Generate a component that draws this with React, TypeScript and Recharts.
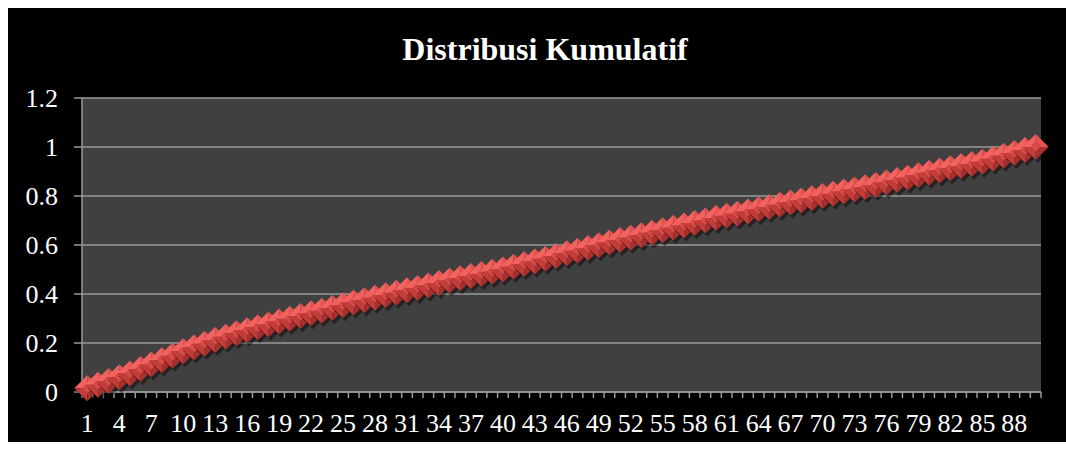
import React, { useLayoutEffect } from 'react';
import { LineChart, Line, XAxis, YAxis, CartesianGrid } from 'recharts';

// nilai distribusi kumulatif per data ke-1..90
const CUMULATIVE = [
  0.015, 0.03, 0.045, 0.06, 0.076, 0.094, 0.112, 0.13, 0.148, 0.166,
  0.182, 0.197, 0.212, 0.226, 0.24, 0.252, 0.264, 0.276, 0.288, 0.299,
  0.31, 0.321, 0.332, 0.343, 0.354, 0.365, 0.375, 0.385, 0.395, 0.405,
  0.415, 0.425, 0.435, 0.445, 0.455, 0.464, 0.473, 0.482, 0.491, 0.5,
  0.511, 0.522, 0.533, 0.544, 0.555, 0.566, 0.577, 0.588, 0.599, 0.61,
  0.62, 0.63, 0.64, 0.65, 0.66, 0.67, 0.68, 0.69, 0.7, 0.71,
  0.719, 0.728, 0.737, 0.746, 0.755, 0.764, 0.773, 0.782, 0.791, 0.8,
  0.809, 0.818, 0.827, 0.836, 0.845, 0.855, 0.865, 0.875, 0.885, 0.895,
  0.904, 0.913, 0.922, 0.931, 0.94, 0.952, 0.964, 0.976, 0.988, 1.0,
];

const CATEGORIES = CUMULATIVE.map((_, i) => i + 1);
const X_LABELS = [1, 4, 7, 10, 13, 16, 19, 22, 25, 28, 31, 34, 37, 40, 43, 46, 49, 52, 55, 58, 61, 64, 67, 70, 73, 76, 79, 82, 85, 88];
const Y_TICKS = [0, 0.2, 0.4, 0.6, 0.8, 1, 1.2];
const Y_LABELS = ['0', '0.2', '0.4', '0.6', '0.8', '1', '1.2'];

const data = CATEGORIES.map((c, i) => ({ idx: c, value: CUMULATIVE[i] }));
// batas kategori untuk garis tick sumbu x
const BOUNDARIES = [0.5, ...CATEGORIES.map((c) => c + 0.5)];

const CHART_W = 1058;
const CHART_H = 434;
const MARGIN = { top: 90, right: 25, left: 0, bottom: 10 };
const Y_AXIS_W = 74;
const PLOT_W = CHART_W - MARGIN.left - MARGIN.right - Y_AXIS_W;
const BAND = PLOT_W / CATEGORIES.length;
const FONT = '"Liberation Serif", "Times New Roman", serif';
const AXIS_GRAY = '#9a9a9a';

const pts = (arr: number[][]) => arr.map((p) => p.join(',')).join(' ');

function Diamond(props: any) {
  const { cx, cy, index } = props;
  if (cx == null || cy == null) return null;
  const R = 13;
  const r = 5;
  const T = [cx, cy - R], Rt = [cx + R, cy], B = [cx, cy + R], L = [cx - R, cy];
  const t = [cx, cy - r], rr = [cx + r, cy], b = [cx, cy + r], l = [cx - r, cy];
  return (
    <g key={`dm-${index}`}>
      <polygon points={pts([[T[0] + 2, T[1] + 3], [Rt[0] + 2, Rt[1] + 3], [B[0] + 2, B[1] + 3], [L[0] + 2, L[1] + 3]])} fill="rgba(0,0,0,0.45)" />
      <polygon points={pts([L, T, t, l])} fill="#f2635f" />
      <polygon points={pts([T, Rt, rr, t])} fill="#e8534f" />
      <polygon points={pts([Rt, B, b, rr])} fill="#a5302e" />
      <polygon points={pts([B, L, l, b])} fill="#c23d3a" />
      <polygon points={pts([t, rr, b, l])} fill="#dc4a47" />
    </g>
  );
}

function XTick(props: any) {
  const { x, y, payload } = props;
  const cat = payload.value + 0.5;
  if (!X_LABELS.includes(cat)) return <g />;
  return (
    <text x={x + BAND / 2} y={y + 32} textAnchor="middle" fill="#ffffff" fontSize={26} fontFamily={FONT}>
      {cat}
    </text>
  );
}

export default function App() {
  // hindari scrollbar karena kotak hitam menyentuh tepi kanan
  useLayoutEffect(() => {
    document.documentElement.style.overflow = 'hidden';
    document.body.style.marginRight = '0px';
  }, []);

  return (
    <div style={{ position: 'relative', width: CHART_W, height: CHART_H, background: '#000000', boxShadow: '8px 0 0 #000000' }}>
      <div
        style={{
          position: 'absolute',
          top: 25,
          left: 0,
          width: 1074,
          textAlign: 'center',
          color: '#ffffff',
          fontFamily: FONT,
          fontWeight: 'bold',
          fontSize: 32,
          lineHeight: '32px',
        }}
      >
        Distribusi Kumulatif
      </div>
      <LineChart width={CHART_W} height={CHART_H} data={data} margin={MARGIN}>
        <CartesianGrid horizontal vertical={false} fill="#404040" stroke={AXIS_GRAY} strokeWidth={1.5} />
        <XAxis
          dataKey="idx"
          type="number"
          domain={[0.5, CATEGORIES.length + 0.5]}
          ticks={BOUNDARIES}
          interval={0}
          height={40}
          axisLine={{ stroke: AXIS_GRAY, strokeWidth: 1.5 }}
          tickLine={{ stroke: AXIS_GRAY, strokeWidth: 1.5 }}
          tickSize={6}
          tick={<XTick />}
        />
        <YAxis
          type="number"
          domain={[0, 1.2]}
          ticks={Y_TICKS}
          interval={0}
          width={Y_AXIS_W}
          axisLine={{ stroke: AXIS_GRAY, strokeWidth: 1.5 }}
          tickLine={{ stroke: AXIS_GRAY, strokeWidth: 1.5 }}
          tickSize={8}
          tickMargin={16}
          tickFormatter={(v: number) => Y_LABELS[Y_TICKS.indexOf(v)] ?? String(v)}
          tick={{ fill: '#ffffff', fontSize: 26, fontFamily: FONT }}
        />
        <Line dataKey="value" stroke="none" dot={Diamond} activeDot={false} isAnimationActive={false} />
      </LineChart>
    </div>
  );
}
